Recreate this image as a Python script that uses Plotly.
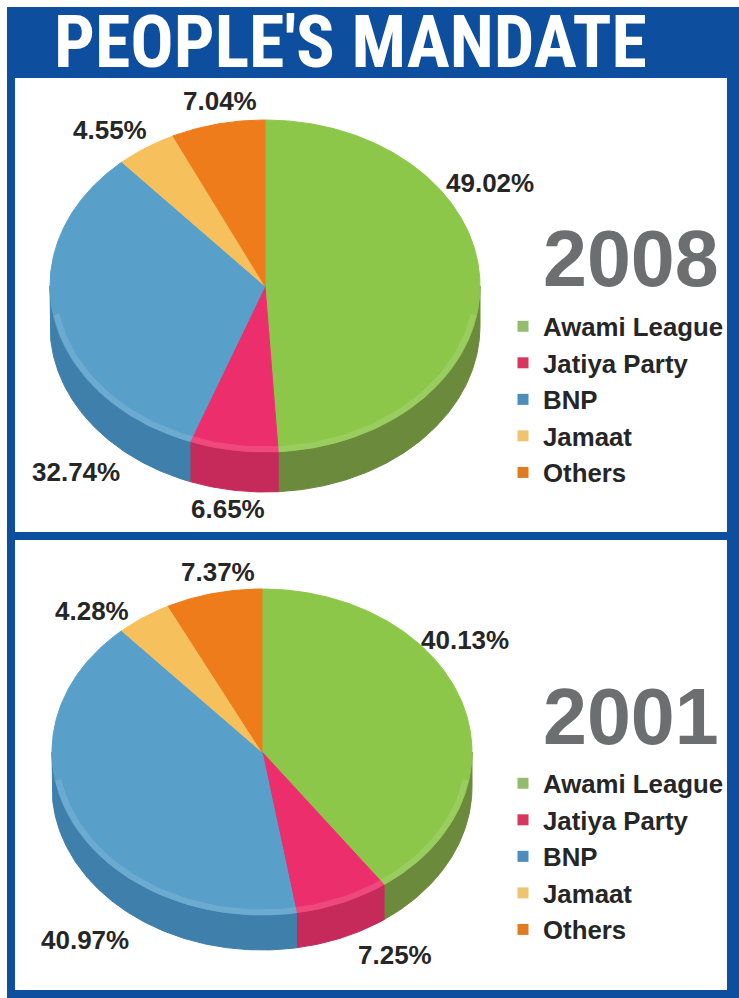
import numpy as np
import plotly.graph_objects as go

# ---------------- data ----------------
parties = ["Awami League", "Jatiya Party", "BNP", "Jamaat", "Others"]
share_2008 = [49.02, 6.65, 32.74, 4.55, 7.04]
share_2001 = [40.13, 7.25, 40.97, 4.28, 7.37]
years = ["2008", "2001"]
title_text = "PEOPLE'S MANDATE"

# ---------------- styles ----------------
top_colors = ["#8cc74a", "#ec2f6c", "#58a0c9", "#f6c15c", "#ee7c1b"]
side_colors = ["#6b8a3c", "#c52a5a", "#3e7fab", "#d19e45", "#c9661a"]
legend_colors = ["#93bd6c", "#d8365f", "#4c8dbd", "#efc46e", "#e07b22"]
BLUE = "#0d4f9e"
TXT = "#262626"
FONT = "Liberation Sans, Arial, sans-serif"
NARROW = "Roboto Condensed, DejaVu Sans Condensed, Liberation Sans Narrow, Liberation Sans, sans-serif"

W, H = 739, 998

# pie geometry (pixel space)
geoms = [
    dict(cx=265, cy=286, rx=215, ry=166, depth=40),
    dict(cx=262, cy=752, rx=210, ry=163, depth=35),
]
label_pos = [
    [(490, 183), (228, 509), (76, 472), (110, 130), (220, 101)],
    [(465, 640), (395, 955), (85, 940), (92, 611), (218, 572)],
]
year_pos = [(541, 258), (541, 716)]
legend_top = [303, 760]


def arc(g, a, b, n=120, dy=0.0, shrink=1.0):
    t = np.radians(np.linspace(a, b, max(3, int(n))))
    return (g["cx"] + g["rx"] * shrink * np.sin(t),
            g["cy"] - g["ry"] * shrink * np.cos(t) + dy)


fig = go.Figure()

for k, (vals, g) in enumerate(zip([share_2008, share_2001], geoms)):
    ends = np.cumsum(vals) / np.sum(vals) * 360.0
    starts = np.concatenate([[0.0], ends[:-1]])
    # sides (front half only)
    for i, (a, b) in enumerate(zip(starts, ends)):
        lo, hi = max(a, 90.0), min(b, 270.0)
        if lo < hi:
            xt, yt = arc(g, lo, hi, (hi - lo) * 1.5)
            xb, yb = arc(g, hi, lo, (hi - lo) * 1.5, dy=g["depth"])
            fig.add_trace(go.Scatter(
                x=np.concatenate([xt, xb, xt[:1]]), y=np.concatenate([yt, yb, yt[:1]]),
                mode="lines", fill="toself", fillcolor=side_colors[i],
                line=dict(color=side_colors[i], width=1), hoverinfo="skip",
                showlegend=False))
    # top wedges
    for i, (a, b) in enumerate(zip(starts, ends)):
        xa, ya = arc(g, a, b, (b - a) * 1.5)
        fig.add_trace(go.Scatter(
            x=np.concatenate([[g["cx"]], xa, [g["cx"]]]),
            y=np.concatenate([[g["cy"]], ya, [g["cy"]]]),
            mode="lines", fill="toself", fillcolor=top_colors[i],
            line=dict(color=top_colors[i], width=1),
            name=parties[i], text=f"{years[k]}: {vals[i]:.2f}%", hoverinfo="text",
            showlegend=False))
    # soft highlight along the front rim of the top surface
    xr, yr = arc(g, 100, 260, 160, shrink=0.985)
    fig.add_trace(go.Scatter(x=xr, y=yr, mode="lines",
                             line=dict(color="rgba(255,255,255,0.12)", width=6),
                             hoverinfo="skip", showlegend=False))
    # legend entries
    for i, p in enumerate(parties):
        fig.add_trace(go.Scatter(
            x=[None], y=[None], mode="markers", name=p,
            marker=dict(symbol="square", size=11, color=legend_colors[i]),
            legend="legend" if k == 0 else "legend2", showlegend=True))
    # percentage labels
    for i, v in enumerate(vals):
        fig.add_annotation(x=label_pos[k][i][0], y=label_pos[k][i][1], text=f"{v:.2f}%",
                           showarrow=False, font=dict(family=FONT, size=26, color=TXT),
                           xanchor="center", yanchor="middle")
    # year label
    fig.add_annotation(x=year_pos[k][0], y=year_pos[k][1], text=f"<b>{years[k]}</b>",
                       showarrow=False, font=dict(family=FONT, size=79, color="#6d6e70"),
                       xanchor="left", yanchor="middle")

fig.update_annotations(font_weight="bold")

shapes = [
    dict(type="rect", x0=7, x1=W, y0=7, y1=H, fillcolor=BLUE, line_width=0, layer="below"),
    dict(type="rect", x0=15, x1=727, y0=78, y1=532, fillcolor="white", line_width=0, layer="below"),
    dict(type="rect", x0=15, x1=727, y0=540, y1=990, fillcolor="white", line_width=0, layer="below"),
]
for s in shapes:
    s.update(xref="x", yref="y")

fig.add_annotation(x=350, y=42, text=title_text, showarrow=False,
                   font=dict(family=NARROW, size=72, color="white", weight="bold"),
                   xanchor="center", yanchor="middle")

leg = dict(xanchor="left", yanchor="top", bgcolor="rgba(0,0,0,0)",
           font=dict(family=FONT, size=25.8, color=TXT, weight="bold"),
           itemclick=False, itemdoubleclick=False)

fig.update_layout(
    width=W, height=H, margin=dict(l=0, r=0, t=0, b=0),
    paper_bgcolor="white", plot_bgcolor="white",
    xaxis=dict(range=[0, W], visible=False, fixedrange=True),
    yaxis=dict(range=[H, 0], visible=False, fixedrange=True),
    shapes=shapes,
    legend=dict(leg, x=503 / W, y=1 - legend_top[0] / H),
    legend2=dict(leg, x=503 / W, y=1 - legend_top[1] / H),
    showlegend=True,
)

fig.write_html("out.html")
